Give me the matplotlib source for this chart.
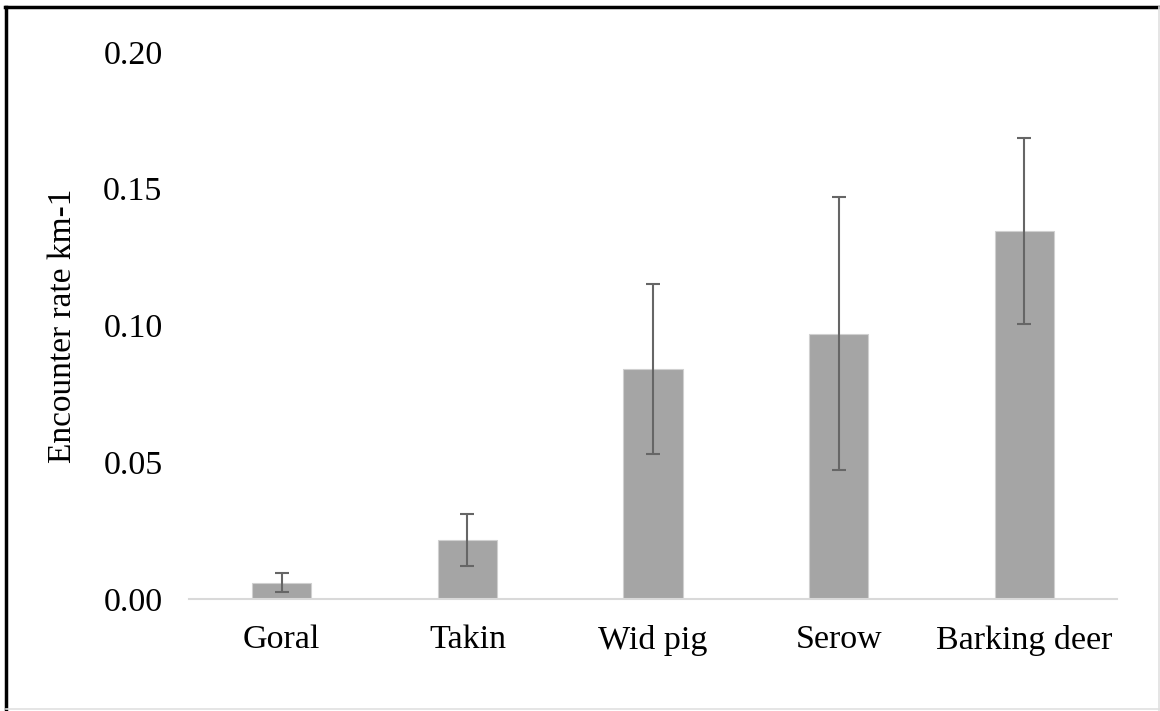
import matplotlib.pyplot as plt
from matplotlib.lines import Line2D

# Encounter rate per species with error margins
especies = ['Goral', 'Takin', 'Wid pig', 'Serow', 'Barking deer']
tasa = [0.006, 0.0215, 0.084, 0.097, 0.1347]
error = [0.0036, 0.0094, 0.031, 0.050, 0.034]
marcas_y = [0.00, 0.05, 0.10, 0.15, 0.20]

plt.rcParams['font.family'] = ['Liberation Serif', 'DejaVu Serif']

fig = plt.figure(figsize=(11.6, 7.11), dpi=100)
ax = fig.add_axes([189 / 1160, 1 - 599 / 711, 928 / 1160, 547 / 711])

ax.bar(especies, tasa, width=0.32, color='#A5A5A5', edgecolor='#D0D0D0', linewidth=0.8, zorder=2)
ax.errorbar(especies, tasa, yerr=error, fmt='none', ecolor='#666666', elinewidth=1.5,
            capsize=5, capthick=1.5, zorder=3)

ax.set_ylim(0, 0.20)
ax.set_xlim(-0.5, len(especies) - 0.5)
ax.set_yticks(marcas_y)
ax.set_yticklabels(['%.2f' % v for v in marcas_y])
ax.tick_params(axis='both', length=0, labelsize=24.5, colors='black')
ax.tick_params(axis='y', pad=19)
ax.tick_params(axis='x', pad=18.5)
for lado in ['top', 'right', 'left']:
    ax.spines[lado].set_visible(False)
ax.spines['bottom'].set_color('#D9D9D9')
ax.spines['bottom'].set_linewidth(1.5)

ax.set_ylabel('Encounter rate km-1', fontsize=24)
ax.yaxis.set_label_coords(-0.12, 0.5)

# Marco exterior del grafico
fig.add_artist(Line2D([6 / 1160, 6 / 1160], [0, 1 - 7 / 711], color='black', lw=2.5))
fig.add_artist(Line2D([5 / 1160, 1], [1 - 7 / 711, 1 - 7 / 711], color='black', lw=2.5))
fig.add_artist(Line2D([1 - 1 / 1160, 1 - 1 / 1160], [0, 1 - 7 / 711], color='#E0E0E0', lw=1.2))
fig.add_artist(Line2D([6 / 1160, 1], [2 / 711, 2 / 711], color='#E0E0E0', lw=1.2))

fig.savefig('out.png', dpi=100)
